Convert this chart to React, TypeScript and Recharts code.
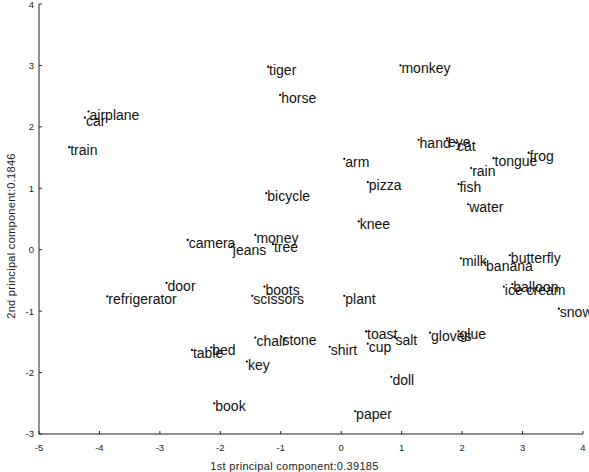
import { Scatter, ScatterChart, XAxis, YAxis } from "recharts";

// word embedding projected onto the first two principal components
const WORDS = [
  "airplane", "car", "train", "tiger", "horse", "monkey", "bicycle", "money",
  "hand", "eye", "cat", "arm", "pizza", "knee", "tongue", "frog", "rain",
  "fish", "water", "camera", "jeans", "tree", "door", "refrigerator", "boots",
  "scissors", "plant", "chair", "stone", "bed", "table", "key", "book",
  "shirt", "toast", "cup", "salt", "gloves", "glue", "doll", "paper", "milk",
  "banana", "butterfly", "balloon", "ice cream", "snow",
];

const PC1 = [
  -4.18, -4.24, -4.5, -1.21, -1.01, 0.98, -1.24, -1.42,
  1.28, 1.75, 1.9, 0.05, 0.44, 0.29, 2.52, 3.1, 2.15,
  1.94, 2.1, -2.54, -1.81, -1.13, -2.89, -3.87, -1.27,
  -1.47, 0.05, -1.42, -0.99, -2.15, -2.47, -1.56, -2.1,
  -0.19, 0.41, 0.44, 0.88, 1.47, 1.94, 0.83, 0.23, 1.98,
  2.38, 2.79, 2.83, 2.69, 3.6,
];

const PC2 = [
  2.25, 2.15, 1.67, 2.98, 2.52, 3.0, 0.92, 0.24,
  1.79, 1.81, 1.74, 1.48, 1.1, 0.46, 1.49, 1.58, 1.33,
  1.07, 0.74, 0.16, 0.05, 0.09, -0.54, -0.76, -0.6,
  -0.75, -0.75, -1.43, -1.42, -1.59, -1.63, -1.82, -2.5,
  -1.58, -1.33, -1.53, -1.42, -1.35, -1.33, -2.07, -2.63, -0.14,
  -0.21, -0.09, -0.56, -0.6, -0.96,
];

const X_TICKS = [-5, -4, -3, -2, -1, 0, 1, 2, 3, 4];
const Y_TICKS = [-3, -2, -1, 0, 1, 2, 3, 4];

const X_LABEL = "1st principal component:0.39185";
const Y_LABEL = "2nd principal component:0.1846";

const points = WORDS.map((word, i) => ({ word, pc1: PC1[i], pc2: PC2[i] }));

const FONT = "'Liberation Sans', Arial, sans-serif";
const AXIS = "#222";

function WordMark(props: any) {
  const { cx, cy, payload } = props;
  return (
    <g>
      <circle cx={cx} cy={cy} r={1.1} fill="#000" />
      <text x={cx + 1} y={cy + 8} fontSize={14} fontFamily={FONT} fill="#111">
        {payload.word}
      </text>
    </g>
  );
}

export default function App() {
  return (
    <div style={{ position: "absolute", left: 0, top: 0, background: "#fff" }}>
      <ScatterChart width={589} height={472} margin={{ top: 4, right: 6, left: 0, bottom: 0 }}>
        <XAxis
          type="number"
          dataKey="pc1"
          domain={[-5, 4]}
          ticks={X_TICKS}
          height={38}
          stroke={AXIS}
          tickSize={-3}
          tickMargin={13}
          tick={{ fontSize: 9.5, fill: "#222", fontFamily: FONT }}
          label={{
            content: () => (
              <text x={294.5} y={470} textAnchor="middle" fontSize={11} letterSpacing={0.3} fontFamily={FONT} fill="#222">
                {X_LABEL}
              </text>
            ),
          }}
        />
        <YAxis
          type="number"
          dataKey="pc2"
          domain={[-3, 4]}
          ticks={Y_TICKS}
          width={39}
          stroke={AXIS}
          tickSize={-3}
          tickMargin={8}
          tick={{ fontSize: 9.5, fill: "#222", fontFamily: FONT }}
          label={{
            content: () => (
              <text
                x={15}
                y={236}
                transform="rotate(-90 15 236)"
                textAnchor="middle"
                fontSize={11}
                letterSpacing={0.3}
                fontFamily={FONT}
                fill="#222"
              >
                {Y_LABEL}
              </text>
            ),
          }}
        />
        <Scatter data={points} shape={WordMark} isAnimationActive={false} />
      </ScatterChart>
    </div>
  );
}
